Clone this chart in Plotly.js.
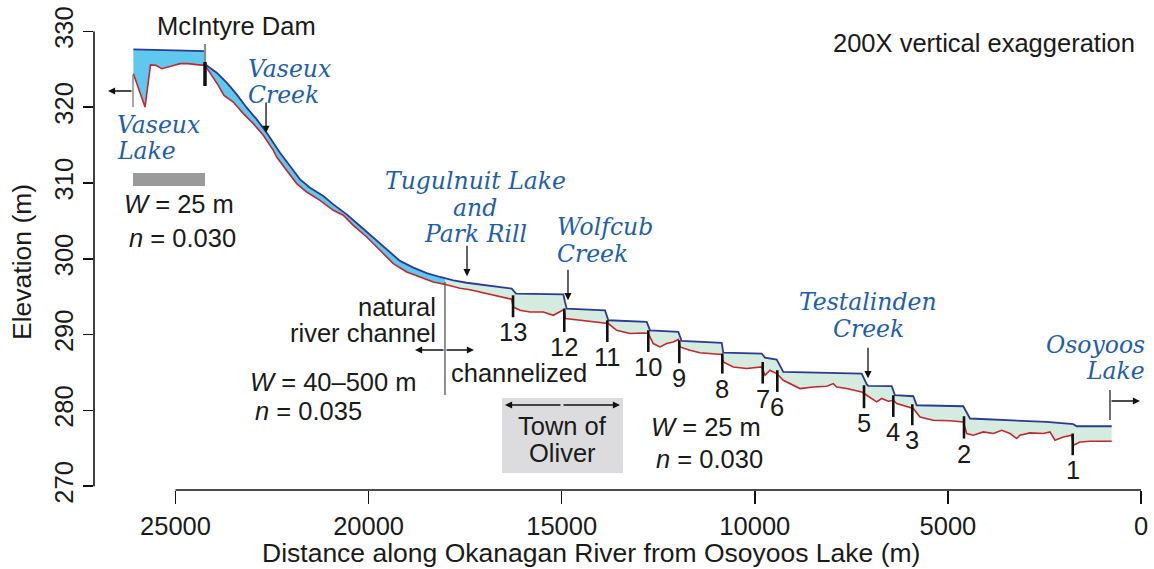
<!DOCTYPE html>
<html><head><meta charset="utf-8">
<script src="https://cdn.plot.ly/plotly-3.0.1.min.js"></script>
<style>html,body{margin:0;padding:0;background:#fff}</style>
</head><body><div id="chart" style="width:1154px;height:569px"></div>
<script>
// ---- Data (distance along river from Osoyoos Lake, m; elevation, m) ----
const lakeWaterDist = [26090, 25500, 24900, 24236];
const lakeWaterElev = [327.63, 327.55, 327.48, 327.40];
const lakeBedDist = [26090, 25789, 25647, 25505, 25357, 25227, 25098, 24883, 24668, 24451, 24236];
const lakeBedElev = [324.40, 320.02, 325.58, 325.52, 325.08, 325.30, 325.43, 325.74, 325.74, 325.61, 325.52];

const riverWaterDist = [24236, 23933, 23674, 23415, 23156, 22897, 22638, 22380, 22294, 22035, 21776, 21517, 21173, 20914, 20567, 20222, 19878, 19531, 19187, 18842, 18495, 18151, 17807, 17460, 16856, 16295, 16183, 14958, 14914, 14870, 13879, 13793, 12799, 12713, 11981, 11893, 10857, 10816, 9821, 9736, 9433, 9303, 9262, 7232, 7103, 7061, 6455, 6370, 5896, 5808, 4601, 4428, 3736, 2442, 1753, 1665, 759];
const riverWaterElev = [325.65, 324.55, 323.23, 321.69, 319.93, 318.39, 316.64, 314.66, 314.00, 312.25, 310.48, 309.38, 308.29, 307.18, 305.86, 304.33, 302.79, 301.25, 299.72, 298.83, 298.12, 297.60, 297.15, 296.84, 296.44, 296.07, 295.41, 295.32, 294.30, 293.43, 293.21, 291.89, 291.67, 290.57, 290.35, 289.16, 288.90, 287.63, 287.50, 286.97, 286.71, 285.30, 285.07, 284.86, 283.45, 283.23, 283.19, 282.00, 281.87, 280.68, 280.55, 278.93, 278.80, 278.48, 278.18, 277.91, 277.91];

const riverBedDist = [24236, 24021, 23892, 23744, 23503, 23244, 22985, 22726, 22467, 22380, 22121, 21862, 21603, 21258, 20914, 20655, 20396, 20049, 19705, 19360, 19013, 18669, 18324, 17978, 17633, 17374, 17030, 16683, 16295, 16253, 16080, 15821, 15476, 15217, 15044, 14940, 14901, 14526, 14094, 13793, 13576, 13231, 12887, 12758, 12628, 12455, 12281, 12110, 11981, 11937, 11678, 11419, 10857, 10816, 10557, 10210, 9821, 9736, 9606, 9433, 9262, 9003, 8830, 8485, 8138, 7967, 7879, 7620, 7232, 7103, 6973, 6843, 6714, 6543, 6414, 6326, 5896, 5722, 5378, 4946, 4601, 4513, 4342, 4083, 3824, 3607, 3392, 3219, 3133, 2874, 2530, 2356, 2227, 2012, 1794, 1753, 1579, 1321, 759];
const riverBedElev = [325.52, 323.97, 322.88, 321.56, 320.68, 319.15, 317.83, 316.29, 314.31, 313.42, 311.67, 309.92, 308.81, 307.71, 306.40, 305.74, 304.42, 302.88, 301.12, 299.37, 298.26, 297.60, 296.94, 296.57, 296.11, 295.91, 295.52, 295.06, 294.66, 293.64, 293.21, 292.98, 292.98, 292.55, 292.98, 293.30, 292.11, 291.89, 291.67, 291.46, 290.57, 290.14, 290.22, 290.14, 288.82, 288.37, 288.82, 289.03, 289.35, 288.37, 287.93, 287.60, 287.37, 286.39, 285.73, 285.52, 285.73, 284.64, 285.30, 284.86, 283.98, 283.32, 282.88, 283.09, 283.19, 283.54, 283.09, 282.88, 282.44, 282.00, 281.57, 281.12, 281.57, 281.21, 281.34, 280.91, 280.25, 279.14, 278.70, 278.64, 278.48, 276.95, 276.73, 277.16, 276.95, 277.38, 276.95, 276.29, 276.73, 277.03, 276.95, 277.16, 276.07, 276.50, 276.73, 275.41, 275.84, 275.93, 275.93];

// weir / drop-structure markers
const weirLabels = ['13','12','11','10','9','8','7','6','5','4','3','2','1'];
const weirDist   = [16260, 14933, 13819, 12758, 11955, 10841, 9795, 9417, 7172, 6414, 5922, 4583, 1768];
const weirTop    = [295.19, 293.43, 291.89, 290.57, 289.25, 287.50, 286.39, 285.30, 283.32, 282.00, 280.81, 279.23, 276.95];
const weirBottom = [292.29, 290.35, 289.03, 287.71, 286.22, 284.86, 283.54, 282.44, 280.29, 279.14, 278.04, 276.29, 274.09];

// tributary inflow points
const tribDist = [22656, 17452, 14837, 7069];
const tribElev = [316.6, 297.7, 294.53, 284.24];

const damDist = 24236;
const channelStart = 18022;
const lakeEnd = 26100;
const osoyoosDist = 803;
const townDist = [16545, 13413];

const xTickVals = [25000, 20000, 15000, 10000, 5000, 0];
const xTickText = ['25000', '20000', '15000', '10000', '5000', '0'];
const yTickVals = [270, 280, 290, 300, 310, 320, 330];

// ---- helpers ----
function clipRange(xs, ys, hi, lo) {
  const ox = [], oy = [];
  const interp = (i, xv) => ys[i] + (xv - xs[i]) / (xs[i+1] - xs[i]) * (ys[i+1] - ys[i]);
  for (let i = 0; i < xs.length; i++) {
    if (xs[i] <= hi && xs[i] >= lo) { ox.push(xs[i]); oy.push(ys[i]); }
    if (i < xs.length - 1) {
      [hi, lo].forEach(b => { if (xs[i] > b && xs[i+1] < b) { ox.push(b); oy.push(interp(i, b)); } });
    }
  }
  return [ox, oy];
}
function poly(wx, wy, bx, by) {
  return [wx.concat(bx.slice().reverse()), wy.concat(by.slice().reverse())];
}
const BLUEFILL = '#5fc8ef', GREENFILL = '#d3ecdf', WATER = '#2b3a92', BED = '#c1272d';

const traces = [];
function fillTrace(p, color) {
  return {x: p[0], y: p[1], mode: 'lines', fill: 'toself', fillcolor: color, line: {width: 0}, hoverinfo: 'skip', showlegend: false};
}
traces.push(fillTrace(poly(lakeWaterDist, lakeWaterElev, lakeBedDist, lakeBedElev), BLUEFILL));
const nw = clipRange(riverWaterDist, riverWaterElev, damDist, channelStart);
const nb = clipRange(riverBedDist, riverBedElev, damDist, channelStart);
traces.push(fillTrace(poly(nw[0], nw[1], nb[0], nb[1]), BLUEFILL));
const cw = clipRange(riverWaterDist, riverWaterElev, channelStart, 0);
const cb = clipRange(riverBedDist, riverBedElev, channelStart, 0);
traces.push(fillTrace(poly(cw[0], cw[1], cb[0], cb[1]), GREENFILL));

function lineTrace(x, y, color, w) {
  return {x: x, y: y, mode: 'lines', line: {color: color, width: w}, hoverinfo: 'skip', showlegend: false};
}
traces.push(lineTrace(lakeBedDist, lakeBedElev, BED, 1.6));
traces.push(lineTrace(riverBedDist, riverBedElev, BED, 1.6));
traces.push(lineTrace(lakeWaterDist, lakeWaterElev, WATER, 1.8));
traces.push(lineTrace(riverWaterDist, riverWaterElev, WATER, 1.8));

// weir markers
const wx = [], wy = [];
weirDist.forEach((d, i) => { wx.push(d, d, null); wy.push(weirTop[i], weirBottom[i], null); });
traces.push({x: wx, y: wy, mode: 'lines', line: {color: '#111', width: 2.6}, hoverinfo: 'skip', showlegend: false, connectgaps: false});

// ---- layout helpers ----
const L = 94, R = 1141, T = 31, B = 490;
const PX = x => (x - L) / (R - L);
const PY = y => (B - y) / (B - T);
const FB = {family: 'Liberation Sans, Arial, sans-serif', size: 25.5, color: '#1a1a1a'};
const FT = {family: 'Liberation Sans, Arial, sans-serif', size: 26.5, color: '#1a1a1a'};
const FS = {family: 'DejaVu Serif, serif', size: 23.5, color: '#1f5eab'};

const ann = [];
function txt(t, x, y, xa, font, extra) {
  ann.push(Object.assign({text: t, xref: 'paper', yref: 'paper', x: PX(x), y: PY(y), xanchor: xa, yanchor: 'middle', showarrow: false, font: font}, extra || {}));
}
txt('McIntyre Dam', 236, 26, 'center', FB);
txt('200X vertical exaggeration', 1137, 43, 'right', FB);
txt('<i>Vaseux</i>', 246, 69, 'left', FS);
txt('<i>Creek</i>', 246, 95, 'left', FS);
txt('<i>Vaseux</i>', 115, 125, 'left', FS);
txt('<i>Lake</i>', 115, 151, 'left', FS);
txt('<i>Tugulnuit Lake</i>', 475, 181, 'center', FS);
txt('<i>and</i>', 475, 208, 'center', FS);
txt('<i>Park Rill</i>', 475, 234, 'center', FS);
txt('<i>Wolfcub</i>', 555, 227, 'left', FS);
txt('<i>Creek</i>', 555, 254, 'left', FS);
txt('<i>Testalinden</i>', 868, 302, 'center', FS);
txt('<i>Creek</i>', 868, 329, 'center', FS);
txt('<i>Osoyoos</i>', 1147, 345, 'right', FS);
txt('<i>Lake</i>', 1147, 371, 'right', FS);
txt('natural', 438, 307, 'right', FB);
txt('river channel', 438, 333, 'right', FB);
txt('channelized', 449, 373, 'left', FB);
txt('<i>W</i> = 40–500 m', 248, 382, 'left', FB);
txt('<i>n</i> = 0.035', 253, 411, 'left', FB);
txt('<i>W</i> = 25 m', 122, 204, 'left', FB);
txt('<i>n</i> = 0.030', 127, 238, 'left', FB);
txt('<i>W</i> = 25 m', 649, 427, 'left', FB);
txt('<i>n</i> = 0.030', 654, 459, 'left', FB);
txt('Town of', 562, 426, 'center', FB);
txt('Oliver', 562, 453, 'center', FB);
txt('Elevation (m)', 22, 262, 'center', FT, {textangle: -90});
txt('Distance along Okanagan River from Osoyoos Lake (m)', 591, 553, 'center', FT);

// weir labels
weirDist.forEach((d, i) => {
  ann.push({text: weirLabels[i], x: d, y: weirBottom[i], xref: 'x', yref: 'y', yanchor: 'top', xanchor: 'center', yshift: 1, showarrow: false, font: FB});
});

// arrows
function arrow(x, y, ax, ay, xref, yref) {
  ann.push({text: '', x: x, y: y, xref: xref, yref: yref, ax: ax, ay: ay, axref: 'pixel', ayref: 'pixel', showarrow: true,
    arrowhead: 2, arrowsize: 1.1, arrowwidth: 1.3, arrowcolor: '#111', standoff: 0, startstandoff: 0});
}
tribDist.forEach((d, i) => arrow(d, tribElev[i], 0, -32, 'x', 'y'));
arrow(PX(108), PY(91), 25, 0, 'paper', 'paper');
arrow(PX(1140), PY(401), -30, 0, 'paper', 'paper');
arrow(PX(415), PY(350), 30, 0, 'paper', 'paper');
arrow(PX(474), PY(350), -29, 0, 'paper', 'paper');
arrow(PX(505), PY(405), 57, 0, 'paper', 'paper');
arrow(PX(620), PY(405), -58, 0, 'paper', 'paper');

const shapes = [
  {type: 'line', xref: 'paper', yref: 'y', x0: 0, x1: 0, y0: 270, y1: 330, line: {color: '#111', width: 1.6}},
  {type: 'line', xref: 'x', yref: 'paper', x0: 25000, x1: 0, y0: 0, y1: 0, line: {color: '#111', width: 1.6}},
  {type: 'rect', xref: 'x', yref: 'paper', x0: townDist[0], x1: townDist[1], y0: PY(473), y1: PY(398), fillcolor: '#dcdcde', line: {width: 0}, layer: 'below'},
  {type: 'rect', xref: 'x', yref: 'paper', x0: lakeEnd, x1: damDist, y0: PY(186), y1: PY(173), fillcolor: '#9a9a9a', line: {width: 0}},
  {type: 'line', xref: 'x', yref: 'paper', x0: lakeEnd, x1: lakeEnd, y0: PY(75), y1: PY(107), line: {color: '#8a8a8a', width: 1.5}},
  {type: 'line', xref: 'x', yref: 'paper', x0: osoyoosDist, x1: osoyoosDist, y0: PY(390), y1: PY(420), line: {color: '#222', width: 1.3}},
  {type: 'line', xref: 'x', yref: 'paper', x0: damDist, x1: damDist, y0: PY(44), y1: PY(66), line: {color: '#8a8a8a', width: 2.2}},
  {type: 'line', xref: 'x', yref: 'paper', x0: damDist, x1: damDist, y0: PY(62), y1: PY(86), line: {color: '#111', width: 3.5}},
  {type: 'line', xref: 'x', yref: 'paper', x0: channelStart, x1: channelStart, y0: PY(282), y1: PY(395), line: {color: '#555', width: 1.3}}
];

const layout = {
  width: 1154, height: 569,
  margin: {l: L, r: 1154 - R, t: T, b: 569 - B},
  paper_bgcolor: '#fff', plot_bgcolor: '#fff',
  showlegend: false,
  xaxis: {range: [27110, 0], tickvals: xTickVals, ticktext: xTickText, ticks: 'outside', ticklen: 13, tickwidth: 1.6, tickcolor: '#111',
    tickfont: {family: 'Liberation Sans, Arial, sans-serif', size: 25.5, color: '#1a1a1a'}, showgrid: false, zeroline: false, showline: false},
  yaxis: {range: [269.5, 330.05], tickvals: yTickVals, ticks: 'outside', ticklen: 10, tickwidth: 1.6, tickcolor: '#111', tickangle: -90,
    tickfont: {family: 'Liberation Sans, Arial, sans-serif', size: 25.5, color: '#1a1a1a'}, showgrid: false, zeroline: false, showline: false},
  annotations: ann,
  shapes: shapes
};
Plotly.newPlot('chart', traces, layout, {staticPlot: true, displayModeBar: false});
</script></body></html>
